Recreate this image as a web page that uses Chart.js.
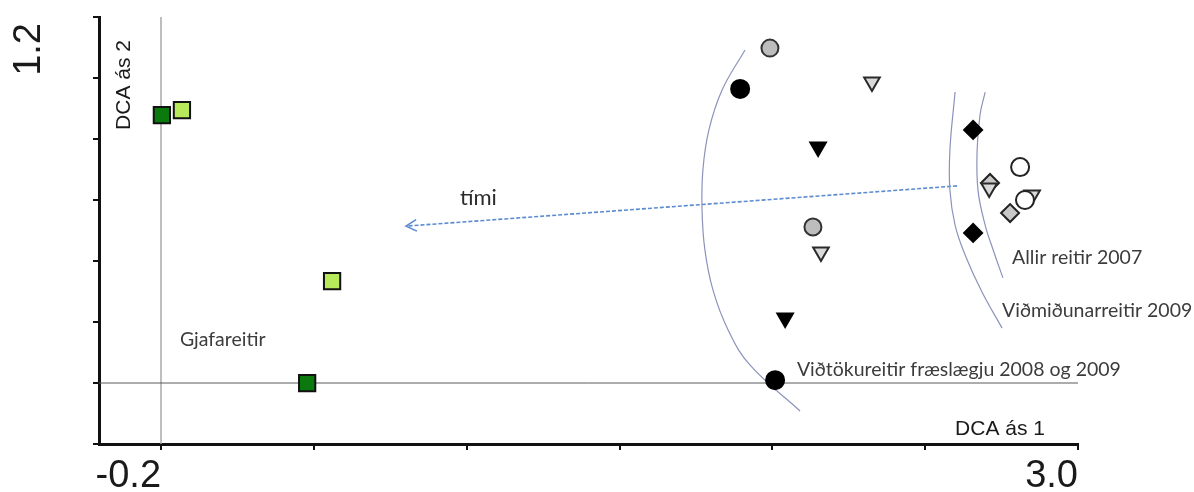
<!DOCTYPE html>
<html>
<head>
<meta charset="utf-8">
<script src="https://cdn.jsdelivr.net/npm/chart.js@4.4.1/dist/chart.umd.min.js"></script>
<style>
  html, body { margin: 0; padding: 0; background: #fff; }
  #wrap { width: 1194px; height: 492px; }
</style>
</head>
<body>
<div id="wrap"><canvas id="dcaChart"></canvas></div>
<script>
// DCA scores (ás 1, ás 2)
const gjafaDarkX = [-0.197, 0.31];
const gjafaDarkY = [0.825, -0.2];
const gjafaLightX = [-0.127, 0.397];
const gjafaLightY = [0.844, 0.19];

const grayCircleX = [1.925, 2.075];
const grayCircleY = [1.081, 0.397];
const blackCircleX = [1.821, 1.943];
const blackCircleY = [0.925, -0.189];
const openTriX = [2.281, 2.103, 2.840, 2.690];
const openTriY = [0.951, 0.301, 0.519, 0.546];
const blackTriX = [2.093, 1.978];
const blackTriY = [0.703, 0.049];
const blackDiamondX = [2.634, 2.634];
const blackDiamondY = [0.768, 0.374];
const grayDiamondX = [2.693, 2.763];
const grayDiamondY = [0.565, 0.450];
const openCircleX = [2.798, 2.815];
const openCircleY = [0.626, 0.500];

// hand drawn outlines round the groups
const arcOuterX = [1.838, 1.758, 1.712, 1.691, 1.688, 1.698, 1.726, 1.779, 1.855, 2.030];
const arcOuterY = [1.074, 0.921, 0.768, 0.615, 0.462, 0.309, 0.156, 0.003, -0.131, -0.307];
const arcMidX = [2.571, 2.553, 2.553, 2.571, 2.606, 2.665, 2.735];
const arcMidY = [0.913, 0.691, 0.538, 0.404, 0.290, 0.148, 0.010];
const arcInnerX = [2.676, 2.658, 2.648, 2.651, 2.676, 2.704, 2.738];
const arcInnerY = [0.913, 0.825, 0.691, 0.538, 0.404, 0.309, 0.202];

// time arrow (tími)
const arrowX = [2.578, 0.655];
const arrowY = [0.554, 0.400];

const xTicks = [-0.2, 0.3333, 0.8667, 1.4, 1.9333, 2.4667, 3.0];
const xTickLabels = ['-0.2', '', '', '', '', '', '3.0'];
const yTicks = [-0.4333, -0.2, 0.0333, 0.2667, 0.5, 0.7333, 0.9667, 1.2];
const yTickLabels = ['', '', '', '', '', '', '', '1.2'];
const xMin = -0.4164, xMax = 3.0, yMin = -0.4333, yMax = 1.2;

const pts = (xs, ys) => xs.map((v, i) => ({ x: v, y: ys[i] }));

const notes = [
    { text: 'Gjafareitir', x: -0.134, y: -0.036, font: '19.5px Lato', color: '#3c3c3c' },
    { text: 'Allir reitir 2007', x: 2.770, y: 0.278, font: '19.5px Lato', color: '#3c3c3c' },
    { text: 'Viðmiðunarreitir 2009', x: 2.735, y: 0.075, font: '19.5px Lato', color: '#3c3c3c' },
    { text: 'Viðtökureitir fræslægju 2008 og 2009', x: 2.019, y: -0.150, font: '19.5px Lato', color: '#3c3c3c' },
    { text: 'tími', x: 0.843, y: 0.508, font: '22px Lato', color: '#2a2a2a' },
    { text: 'DCA ás 1', x: 2.571, y: -0.376, font: '21px "Liberation Sans"', color: '#1a1a1a' }
];

function marker(data, style, radius, fill, border, rotation) {
    return {
        data: data,
        pointStyle: style,
        pointRadius: radius,
        pointHoverRadius: radius,
        pointRotation: rotation || 0,
        pointBackgroundColor: fill,
        pointBorderColor: border,
        pointBorderWidth: 2,
        showLine: false,
        order: 0
    };
}

function line(data, color, width, dash, tension) {
    return {
        data: data,
        showLine: true,
        borderColor: color,
        borderWidth: width,
        borderDash: dash || [],
        tension: tension || 0,
        pointRadius: 0,
        pointHoverRadius: 0,
        fill: false,
        order: 5
    };
}

const dcaNotes = {
    id: 'dcaNotes',
    afterDatasetsDraw(chart) {
        const { ctx, scales: { x, y } } = chart;
        ctx.save();

        // arrow head at the end of the time arrow
        const n = arrowX.length;
        const tx = x.getPixelForValue(arrowX[n - 1]), ty = y.getPixelForValue(arrowY[n - 1]);
        const fx = x.getPixelForValue(arrowX[n - 2]), fy = y.getPixelForValue(arrowY[n - 2]);
        const ang = Math.atan2(ty - fy, tx - fx);
        ctx.strokeStyle = '#5b8bd0';
        ctx.lineWidth = 1.6;
        ctx.beginPath();
        ctx.moveTo(tx - 12 * Math.cos(ang - 0.5), ty - 12 * Math.sin(ang - 0.5));
        ctx.lineTo(tx, ty);
        ctx.lineTo(tx - 12 * Math.cos(ang + 0.5), ty - 12 * Math.sin(ang + 0.5));
        ctx.stroke();

        // labels in the plot
        ctx.textAlign = 'left';
        ctx.textBaseline = 'middle';
        notes.forEach(nt => {
            ctx.font = nt.font;
            ctx.fillStyle = nt.color;
            ctx.fillText(nt.text, x.getPixelForValue(nt.x), y.getPixelForValue(nt.y));
        });

        // DCA ás 2, written upwards
        ctx.save();
        ctx.translate(x.getPixelForValue(-0.308), y.getPixelForValue(0.768));
        ctx.rotate(-Math.PI / 2);
        ctx.font = '21px "Liberation Sans"';
        ctx.fillStyle = '#1a1a1a';
        ctx.textBaseline = 'alphabetic';
        ctx.fillText('DCA ás 2', 0, 0);
        ctx.restore();

        // y tick label, rotated like the original
        yTicks.forEach((v, i) => {
            if (!yTickLabels[i]) return;
            ctx.save();
            ctx.translate(chart.chartArea.left - 59, y.getPixelForValue(v) + 6);
            ctx.rotate(-Math.PI / 2);
            ctx.font = '38px "Liberation Sans"';
            ctx.fillStyle = '#1a1a1a';
            ctx.textAlign = 'right';
            ctx.textBaseline = 'alphabetic';
            ctx.fillText(yTickLabels[i], 0, 0);
            ctx.restore();
        });

        ctx.restore();
    }
};

const ctx = document.getElementById('dcaChart').getContext('2d');
const dcaChart = new Chart(ctx, {
    type: 'scatter',
    data: {
        datasets: [
            marker(pts(openCircleX, openCircleY), 'circle', 9, '#ffffff', '#222222'),
            marker(pts(openTriX, openTriY), 'triangle', 9, '#dadada', '#2a2a2a', 180),
            marker(pts(grayDiamondX, grayDiamondY), 'rectRot', 9, '#c8c8c8', '#222222'),
            marker(pts(blackDiamondX, blackDiamondY), 'rectRot', 9, '#000000', '#000000'),
            marker(pts(blackTriX, blackTriY), 'triangle', 9, '#000000', '#000000', 180),
            marker(pts(blackCircleX, blackCircleY), 'circle', 9, '#000000', '#000000'),
            marker(pts(grayCircleX, grayCircleY), 'circle', 8.5, '#bdbdbd', '#333333'),
            marker(pts(gjafaLightX, gjafaLightY), 'rect', 11.5, '#b8e95a', '#111111'),
            marker(pts(gjafaDarkX, gjafaDarkY), 'rect', 11.5, '#0b7a0e', '#111111'),
            line(pts(arcOuterX, arcOuterY), '#8c93bb', 1.2, null, 0.4),
            line(pts(arcMidX, arcMidY), '#8c93bb', 1.2, null, 0.4),
            line(pts(arcInnerX, arcInnerY), '#8c93bb', 1.2, null, 0.4),
            line(pts(arrowX, arrowY), '#5b8bd0', 1.6, [4, 2]),
            line(pts([xMin, xMax], [-0.2, -0.2]), '#5a5a5a', 1),
            line(pts([-0.2, -0.2], [yMin, yMax]), '#a8a8a8', 1.5)
        ]
    },
    options: {
        responsive: true,
        maintainAspectRatio: false,
        animation: false,
        layout: {
            padding: { left: 91, top: 17, right: 116, bottom: 0 }
        },
        plugins: {
            legend: { display: false },
            tooltip: { enabled: false }
        },
        scales: {
            x: {
                type: 'linear',
                position: 'bottom',
                min: xMin,
                max: xMax,
                afterBuildTicks: s => { s.ticks = xTicks.map(v => ({ value: v })); },
                afterFit: s => { s.height = 48; },
                ticks: {
                    callback: (v, i) => xTickLabels[i],
                    align: 'end',
                    autoSkip: false,
                    maxRotation: 0,
                    padding: 4,
                    color: '#1a1a1a',
                    font: { family: '"Liberation Sans"', size: 38 }
                },
                grid: { drawOnChartArea: false, drawTicks: true, tickLength: 6, color: '#111', lineWidth: 2 },
                border: { color: '#111', width: 3 }
            },
            y: {
                type: 'linear',
                min: yMin,
                max: yMax,
                afterBuildTicks: s => { s.ticks = yTicks.map(v => ({ value: v })); },
                afterFit: s => { s.width = 8; },
                ticks: { display: false },
                grid: { drawOnChartArea: false, drawTicks: true, tickLength: 6, color: '#111', lineWidth: 2 },
                border: { color: '#111', width: 3 }
            }
        }
    },
    plugins: [dcaNotes]
});
</script>
</body>
</html>
